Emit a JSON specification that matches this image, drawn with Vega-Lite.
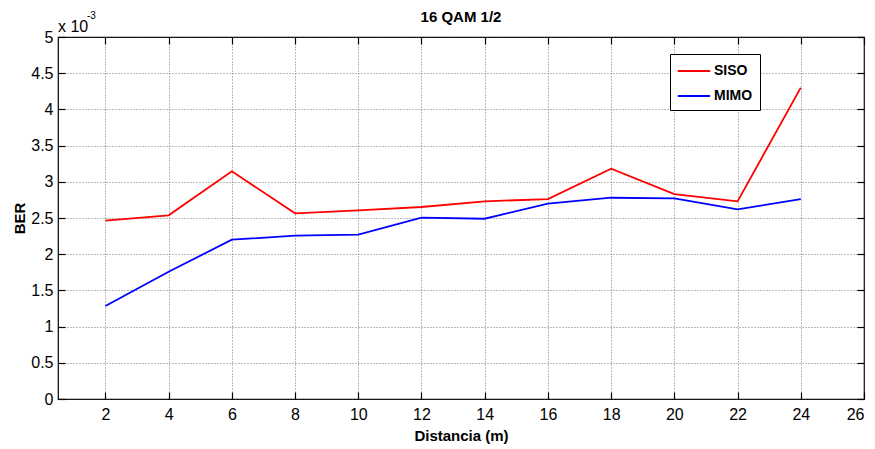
{
  "$schema": "https://vega.github.io/schema/vega-lite/v6.json",
  "width": 806,
  "height": 362,
  "autosize": {"type": "none"},
  "padding": {"left": 58, "top": 37, "right": 11, "bottom": 50},
  "background": "white",
  "config": {
    "font": "Liberation Sans",
    "view": {"stroke": "black", "strokeWidth": 1.2},
    "axis": {
      "labelFont": "Liberation Sans",
      "titleFont": "Liberation Sans",
      "labelFontSize": 16,
      "labelColor": "black",
      "titleColor": "black",
      "labelOverlap": false,
      "domain": false,
      "ticks": true,
      "tickColor": "black",
      "tickSize": -7,
      "tickWidth": 1.2,
      "gridColor": "#555555",
      "gridDash": [1, 2],
      "gridOpacity": 0.8,
      "gridWidth": 1
    }
  },
  "title": {
    "text": "16 QAM 1/2",
    "font": "Liberation Sans",
    "fontSize": 15,
    "fontWeight": "bold",
    "color": "black",
    "offset": -14
  },
  "resolve": {"axis": {"x": "independent", "y": "independent"}},
  "data": {
    "values": [
      {"d": 2, "serie": "SISO", "ber": 0.002463},
      {"d": 4, "serie": "SISO", "ber": 0.002537},
      {"d": 6, "serie": "SISO", "ber": 0.003145},
      {"d": 8, "serie": "SISO", "ber": 0.002565},
      {"d": 10, "serie": "SISO", "ber": 0.002606},
      {"d": 12, "serie": "SISO", "ber": 0.002652},
      {"d": 14, "serie": "SISO", "ber": 0.00273},
      {"d": 16, "serie": "SISO", "ber": 0.002762},
      {"d": 18, "serie": "SISO", "ber": 0.00318},
      {"d": 20, "serie": "SISO", "ber": 0.00283},
      {"d": 22, "serie": "SISO", "ber": 0.00273},
      {"d": 24, "serie": "SISO", "ber": 0.0043},
      {"d": 2, "serie": "MIMO", "ber": 0.001285},
      {"d": 4, "serie": "MIMO", "ber": 0.001758},
      {"d": 6, "serie": "MIMO", "ber": 0.0022},
      {"d": 8, "serie": "MIMO", "ber": 0.002256},
      {"d": 10, "serie": "MIMO", "ber": 0.00227},
      {"d": 12, "serie": "MIMO", "ber": 0.002504},
      {"d": 14, "serie": "MIMO", "ber": 0.00249},
      {"d": 16, "serie": "MIMO", "ber": 0.0027},
      {"d": 18, "serie": "MIMO", "ber": 0.00278},
      {"d": 20, "serie": "MIMO", "ber": 0.00277},
      {"d": 22, "serie": "MIMO", "ber": 0.00262},
      {"d": 24, "serie": "MIMO", "ber": 0.00276}
    ]
  },
  "layer": [
    {
      "mark": {"type": "line", "strokeWidth": 1.8},
      "encoding": {
        "x": {
          "field": "d",
          "type": "quantitative",
          "scale": {"domain": [0.5, 26], "nice": false, "zero": false},
          "axis": {
            "values": [2, 4, 6, 8, 10, 12, 14, 16, 18, 20, 22, 24, 26],
            "title": "Distancia (m)",
            "titleFontSize": 15,
            "titleFontWeight": "bold",
            "titlePadding": 6,
            "labelPadding": 14
          }
        },
        "y": {
          "field": "ber",
          "type": "quantitative",
          "scale": {"domain": [0, 0.005], "nice": false},
          "axis": {
            "values": [0, 0.0005, 0.001, 0.0015, 0.002, 0.0025, 0.003, 0.0035, 0.004, 0.0045, 0.005],
            "labelExpr": "format(datum.value * 1000, '~g')",
            "title": "BER",
            "titleFontSize": 15,
            "titleFontWeight": "bold",
            "titlePadding": 3,
            "labelPadding": 12
          }
        },
        "color": {
          "field": "serie",
          "type": "nominal",
          "scale": {"domain": ["SISO", "MIMO"], "range": ["#ff0000", "#0000ff"]},
          "legend": {
            "title": null,
            "orient": "none",
            "legendX": 612,
            "legendY": 17,
            "strokeColor": "black",
            "fillColor": "white",
            "padding": 7,
            "symbolType": "M-1.8,0H1.8",
            "symbolSize": 324,
            "symbolOffset": 7,
            "symbolStrokeWidth": 2,
            "labelFont": "Liberation Sans",
            "labelFontSize": 14,
            "labelFontWeight": "bold",
            "labelColor": "black",
            "rowPadding": 8,
            "labelOffset": 10
          }
        }
      }
    },
    {
      "data": {"values": [{}]},
      "mark": {"type": "rule", "opacity": 0},
      "encoding": {
        "x": {
          "datum": 2,
          "type": "quantitative",
          "axis": {
            "orient": "top",
            "values": [2, 4, 6, 8, 10, 12, 14, 16, 18, 20, 22, 24, 26],
            "labels": false,
            "grid": false,
            "title": null
          }
        },
        "y": {
          "datum": 0,
          "type": "quantitative",
          "axis": {
            "orient": "right",
            "values": [0, 0.0005, 0.001, 0.0015, 0.002, 0.0025, 0.003, 0.0035, 0.004, 0.0045, 0.005],
            "labels": false,
            "grid": false,
            "title": null
          }
        }
      }
    },
    {
      "data": {"values": [{}]},
      "mark": {"type": "text", "align": "left", "baseline": "alphabetic", "fontSize": 16, "dx": 0, "dy": -5, "color": "black"},
      "encoding": {
        "x": {"datum": 0.5, "type": "quantitative", "axis": null},
        "y": {"datum": 0.005, "type": "quantitative", "axis": null},
        "text": {"value": "x 10"}
      }
    },
    {
      "data": {"values": [{}]},
      "mark": {"type": "text", "align": "left", "baseline": "alphabetic", "fontSize": 10, "dx": 29, "dy": -18, "color": "black"},
      "encoding": {
        "x": {"datum": 0.5, "type": "quantitative", "axis": null},
        "y": {"datum": 0.005, "type": "quantitative", "axis": null},
        "text": {"value": "-3"}
      }
    }
  ]
}
